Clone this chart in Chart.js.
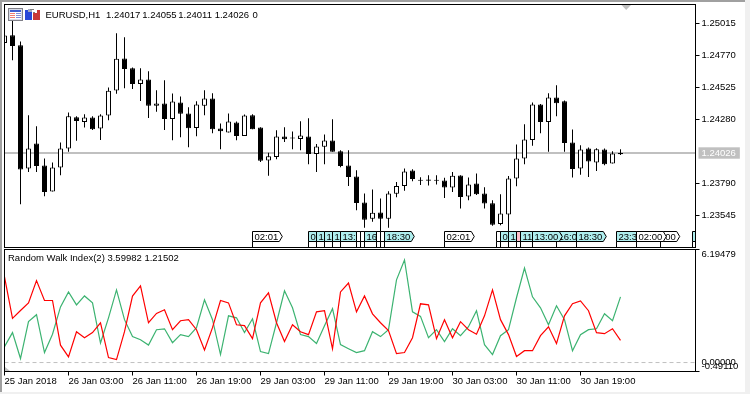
<!DOCTYPE html>
<html><head><meta charset="utf-8">
<script src="https://cdn.jsdelivr.net/npm/chart.js@4/dist/chart.umd.min.js"></script>
<style>
html,body{margin:0;padding:0;background:#fff;overflow:hidden}
#wrap{position:relative;width:750px;height:394px;background:#fff}
canvas{position:absolute;left:0}
#c1{top:0}
#c2{top:248px}
.edge{position:absolute}
</style></head><body>
<div id="wrap">
<canvas id="c1" width="750" height="248"></canvas>
<canvas id="c2" width="750" height="146"></canvas>
<div class="edge" style="left:0;top:0;width:750px;height:2px;background:#a0a0a0"></div>
<div class="edge" style="left:0;top:0;width:2px;height:394px;background:#a0a0a0"></div>
<div class="edge" style="left:745px;top:0;width:5px;height:394px;background:#f0f0f0"></div>
<div class="edge" style="left:0;top:392px;width:750px;height:2px;background:#f0f0f0"></div>
</div>
<script>
const opens=[1.24869,1.24928,1.24851,1.23908,1.24099,1.23930,1.23731,1.23915,1.24061,1.24300,
1.24264,1.24298,1.24214,1.24313,1.24505,1.24750,1.24675,1.24555,1.24589,1.24387,
1.24405,1.24287,1.24413,1.24329,1.24218,1.24387,1.24443,1.24214,1.24183,1.24260,
1.24157,1.24316,1.24221,1.23969,1.23996,1.24152,1.24142,1.24134,1.24152,1.24019,
1.24073,1.24122,1.24040,1.23930,1.23846,1.23647,1.23522,1.23571,1.23522,1.23713,
1.23774,1.23892,1.23816,1.23823,1.23818,1.23816,1.23762,1.23854,1.23693,1.23793,
1.23716,1.23642,1.23483,1.23555,1.23831,1.23984,1.24126,1.24397,1.24264,1.24451,
1.24423,1.24107,1.23908,1.24061,1.23953,1.24053,1.23946,1.24017];
const highs=[1.24926,1.25043,1.24880,1.24316,1.24231,1.23984,1.23953,1.24107,1.24336,1.24308,
1.24323,1.24308,1.24323,1.24528,1.24943,1.24913,1.24681,1.24675,1.24652,1.24507,
1.24584,1.24482,1.24459,1.24377,1.24423,1.24507,1.24484,1.24252,1.24329,1.24267,
1.24321,1.24323,1.24224,1.24027,1.24201,1.24224,1.24191,1.24270,1.24293,1.24094,
1.24168,1.24285,1.24048,1.24048,1.23894,1.23716,1.23747,1.23678,1.23734,1.23803,
1.23908,1.23902,1.23841,1.23856,1.23856,1.23836,1.23881,1.23856,1.23839,1.23869,
1.23764,1.23665,1.23711,1.23849,1.24091,1.24247,1.24413,1.24402,1.24484,1.24545,
1.24428,1.24206,1.24086,1.24068,1.24063,1.24061,1.24040,1.24055];
const lows=[1.24869,1.24737,1.23634,1.23881,1.23881,1.23695,1.23731,1.23856,1.24035,1.24119,
1.24221,1.24203,1.24126,1.24277,1.24479,1.24522,1.24517,1.24425,1.24295,1.24341,
1.24203,1.24124,1.24147,1.24071,1.24155,1.24316,1.24178,1.24055,1.24183,1.24124,
1.24157,1.24208,1.23958,1.23851,1.23979,1.24111,1.24055,1.24048,1.23940,1.23881,
1.23940,1.24035,1.23917,1.23774,1.23588,1.23453,1.23499,1.23420,1.23453,1.23688,
1.23736,1.23810,1.23780,1.23777,1.23785,1.23682,1.23728,1.23601,1.23665,1.23705,
1.23601,1.23468,1.23473,1.23427,1.23772,1.23940,1.24081,1.24178,1.24035,1.24308,
1.24035,1.23839,1.23859,1.23843,1.23889,1.23933,1.23946,1.24011];
const closes=[1.24926,1.24846,1.23900,1.24061,1.23927,1.23728,1.23915,1.24061,1.24308,1.24272,
1.24298,1.24208,1.24313,1.24502,1.24747,1.24670,1.24555,1.24589,1.24387,1.24405,
1.24287,1.24420,1.24326,1.24216,1.24397,1.24443,1.24208,1.24193,1.24267,1.24157,
1.24313,1.24208,1.23966,1.24002,1.24152,1.24132,1.24137,1.24160,1.24019,1.24076,
1.24122,1.24035,1.23927,1.23843,1.23644,1.23514,1.23568,1.23522,1.23716,1.23774,
1.23885,1.23826,1.23813,1.23813,1.23813,1.23762,1.23851,1.23690,1.23785,1.23711,
1.23640,1.23476,1.23563,1.23831,1.23984,1.24130,1.24397,1.24264,1.24451,1.24407,
1.24103,1.23904,1.24053,1.23961,1.24055,1.23940,1.24022,1.24026];
const rwiRed=[4.69,2.42,2.85,3.27,4.49,3.40,3.40,0.95,0.31,1.69,
1.36,1.64,2.18,0.27,0.16,1.69,3.64,4.20,2.18,2.69,
2.89,1.80,2.29,2.35,1.80,0.69,1.91,3.40,3.27,2.07,
2.02,1.31,3.27,3.82,2.18,1.15,2.07,1.69,1.53,2.78,
2.84,0.75,3.87,4.36,2.78,3.65,2.67,2.18,1.75,0.49,
0.55,1.36,3.22,3.16,1.31,2.35,1.36,2.24,1.80,1.55,
2.56,3.98,2.35,1.53,0.33,0.65,0.65,1.47,1.96,1.04,
2.56,3.22,3.38,2.84,1.64,1.58,1.85,1.21502];
const rwiGreen=[0.87,1.64,0.22,2.24,2.62,0.55,1.55,3.05,3.87,3.16,
3.65,3.27,1.07,2.45,3.98,2.35,1.42,1.25,0.96,1.80,
1.85,1.09,1.53,1.42,1.91,3.44,2.35,0.44,2.56,2.45,
1.64,2.40,0.60,0.49,2.18,3.93,3.00,1.53,1.42,1.04,
2.02,2.95,0.98,0.76,0.55,0.65,1.69,1.42,1.80,4.53,
5.62,2.78,2.53,1.36,1.80,1.15,1.85,1.47,1.96,2.84,
0.98,0.44,1.47,1.80,3.55,5.18,3.60,3.00,2.07,3.11,
2.35,0.65,1.53,1.80,1.85,2.67,2.29,3.59982];
const timeTickBars=[0,8,16,24,32,40,48,56,64,72];
const timeTickLabels=['25 Jan 2018','26 Jan 03:00','26 Jan 11:00','26 Jan 19:00','29 Jan 03:00','29 Jan 11:00','29 Jan 19:00','30 Jan 03:00','30 Jan 11:00','30 Jan 19:00'];
const priceTicks=[1.25015,1.24770,1.24525,1.24280,1.24026,1.23790,1.23545];
const lastPrice=1.24026;
const rwiTicks=[6.19479,0,-0.4911];
const tagBars=[31,38,39,40,41,42,44,44.5,45,46.5,47,47.5,55,61.5,62,63,64,64.5,69,66,71.5,76.5,82,79,86];
const tagTexts=['02:01','0','1','1','1','13:','','','16','','','18:30','02:01','','0','1','','11','16:0','13:00','18:30','23:3',':00','02:00',''];
const tagKinds=['w','c','c','c','c','c','w','w','c','w','w','c','w','w','c','c','p','c','c','c','c','c','w','w','c'];
const headerTexts=['EURUSD,H1','1.24017','1.24055','1.24011','1.24026','0'];
const subTitle='Random Walk Index(2) 3.59982 1.21502';

const FONT='"Liberation Sans"';
const FS=9.5;
const fontStr=FS+'px '+FONT;
const xMax=86.375;
const bars=opens.map((_,i)=>i);
const tagFill={w:'#ffffff',c:'#afeeee',p:'#ffc0cb'};

function frame(chart){
  const a=chart.chartArea,c=chart.ctx;
  c.save();c.strokeStyle='#000';c.lineWidth=1;
  c.strokeRect(Math.floor(a.left)+.5,Math.floor(a.top)+.5,Math.floor(a.right)-Math.floor(a.left),Math.floor(a.bottom)-Math.floor(a.top));
  c.restore();
}
function noOverflow(s){s.paddingTop=0;s.paddingBottom=0;s.paddingLeft=0;s.paddingRight=0;}
const mainDeco={id:'mainDeco',
  afterDatasetsDraw(chart){
    const c=chart.ctx,xs=chart.scales.x;
    c.save();
    c.font=fontStr;c.textBaseline='middle';
    tagBars.forEach((b,i)=>{
      const x=Math.round(xs.getPixelForValue(b)-.5)+.5,t=tagTexts[i];
      const w=c.measureText(t||'18:30').width+3,top=231.5,bot=241.5,mid=236.5;
      c.save();c.beginPath();c.rect(chart.chartArea.left,0,chart.chartArea.right-chart.chartArea.left,248);c.clip();
      c.beginPath();c.moveTo(x,top);c.lineTo(x+w,top);c.lineTo(x+w+3,mid);c.lineTo(x+w,bot);c.lineTo(x,bot);c.closePath();
      c.fillStyle=tagFill[tagKinds[i]];c.fill();c.strokeStyle='#000';c.lineWidth=1;c.stroke();
      c.beginPath();c.moveTo(x,bot);c.lineTo(x,247);c.stroke();
      c.fillStyle='#000';c.textAlign='left';if(t)c.fillText(t,x+2,mid+.5);
      c.restore();
    });
    c.restore();
    frame(chart);
    c.save();
    c.fillStyle='#d8dce8';c.strokeStyle='#808088';c.lineWidth=1;c.fillRect(8,8,14,12);c.strokeRect(8.5,8.5,14,12);
    c.fillStyle='#ffffff';c.fillRect(10,10,11,9);
    c.fillStyle='#4060d0';c.fillRect(10,10,11,2);
    c.fillStyle='#f08070';c.fillRect(10,13,5,1);c.fillRect(10,15,5,1);c.fillRect(10,17,5,1);
    c.fillStyle='#8090d8';c.fillRect(16,13,5,1);c.fillRect(16,15,5,1);c.fillRect(16,17,5,1);
    c.fillStyle='#2848d8';c.fillRect(25,10,7,10);c.fillStyle='#a0a8c0';c.fillRect(28,9,4,3);
    c.fillStyle='#c83838';c.fillRect(33,10,7,10);c.fillStyle='#ffffff';c.fillRect(33,10,4,3);
    c.fillStyle='#808080';c.fillRect(30,9,4,1);c.fillRect(33,12,2,1);
    c.fillStyle='#c0c0c0';c.beginPath();c.moveTo(621.5,5);c.lineTo(631,5);c.lineTo(626.2,10);c.closePath();c.fill();
    c.fillStyle='#000';c.font=fontStr;c.textBaseline='middle';c.textAlign='left';
    const hx=[45.5,106,142.3,178.3,214.7,252.5];
    headerTexts.forEach((t,i)=>c.fillText(t,hx[i],15));
    c.restore();
  }};
const subDeco={id:'subDeco',
  afterDatasetsDraw(chart){
    frame(chart);
    const c=chart.ctx;
    c.save();
    c.fillStyle='#c0c0c0';c.beginPath();c.moveTo(5,119);c.lineTo(10,123);c.lineTo(5,123);c.closePath();c.fill();
    c.fillStyle='#000';c.font=fontStr;c.textBaseline='middle';c.textAlign='left';
    c.fillText(subTitle,8,10.5);
    c.restore();
  }};
Chart.defaults.animation=false;
Chart.defaults.font.family=FONT;
Chart.defaults.font.size=FS;
Chart.defaults.color='#000';

new Chart(document.getElementById('c1'),{
  type:'bar',
  data:{datasets:[
    {label:'Body',order:1,barThickness:5,grouped:false,minBarLength:1,
     data:bars.map(i=>({x:i,y:[Math.min(opens[i],closes[i]),Math.max(opens[i],closes[i])]})),
     backgroundColor:bars.map(i=>closes[i]>=opens[i]?'#ffffff':'#000000'),
     borderColor:'#000',borderWidth:1,borderSkipped:false,inflateAmount:0},
    {label:'Wick',order:2,barThickness:1,grouped:false,
     data:bars.map(i=>({x:i,y:[lows[i],highs[i]]})),
     backgroundColor:'#000',borderWidth:0,inflateAmount:0},
    {type:'line',label:'Last price',order:3,data:[{x:0,y:lastPrice},{x:xMax,y:lastPrice}],
     borderColor:'#c0c0c0',borderWidth:2,pointRadius:0,tension:0}
  ]},
  options:{responsive:false,
    layout:{padding:{left:4.5,top:4.5,right:0,bottom:.5}},
    plugins:{legend:{display:false},tooltip:{enabled:false}},
    scales:{
      x:{type:'linear',display:false,min:0,max:xMax,offset:false,grid:{offset:false}},
      y:{position:'right',min:1.233023,max:1.251633,
        afterFit(s){s.width=54.5;noOverflow(s);},
        afterBuildTicks(s){s.ticks=priceTicks.map(v=>({value:v}));},
        border:{display:false},
        grid:{drawOnChartArea:false,tickLength:4,tickColor:c=>c.tick&&c.tick.value===lastPrice?'rgba(0,0,0,0)':'#000'},
        ticks:{padding:2,autoSkip:false,font:{size:FS,family:FONT},
          callback:v=>v.toFixed(5),
          color:c=>c.tick.value===lastPrice?'#ffffff':'#000',
          showLabelBackdrop:c=>c.tick.value===lastPrice,
          backdropColor:'#c0c0c0',backdropPadding:{left:3,right:4,top:0,bottom:0}}
      }
    }
  },
  plugins:[mainDeco]
});

new Chart(document.getElementById('c2'),{
  type:'line',
  data:{datasets:[
    {label:'RWI high',order:1,data:bars.map(i=>({x:i,y:rwiRed[i]})),borderColor:'#ff0000',borderWidth:1.2,pointRadius:0,tension:0},
    {label:'RWI low',order:2,data:bars.map(i=>({x:i,y:rwiGreen[i]})),borderColor:'#3cb371',borderWidth:1.2,pointRadius:0,tension:0},
    {label:'Zero',order:3,data:[{x:0,y:0},{x:xMax,y:0}],borderColor:'#c0c0c0',borderWidth:1,borderDash:[4,3],pointRadius:0,tension:0}
  ]},
  options:{responsive:false,
    layout:{padding:{left:4.5,top:1.5,right:0,bottom:0}},
    plugins:{legend:{display:false},tooltip:{enabled:false}},
    scales:{
      x:{type:'linear',min:0,max:xMax,offset:false,
        afterFit(s){s.height=22.5;noOverflow(s);},
        afterBuildTicks(s){s.ticks=timeTickBars.map(v=>({value:v}));},
        border:{display:false},
        grid:{drawOnChartArea:false,tickLength:4,tickColor:'#000'},
        ticks:{autoSkip:false,maxRotation:0,minRotation:0,align:'start',padding:0,font:{size:FS,family:FONT},
          callback:(v,i)=>timeTickLabels[i]}
      },
      y:{position:'right',min:-0.4911,max:6.19479,
        afterFit(s){s.width=54.5;noOverflow(s);},
        afterBuildTicks(s){s.ticks=rwiTicks.map(v=>({value:v}));},
        border:{display:false},
        grid:{drawOnChartArea:false,tickLength:4,tickColor:c=>c.tick&&c.tick.value===0?'rgba(0,0,0,0)':'#000'},
        ticks:{padding:2,autoSkip:false,font:{size:FS,family:FONT,lineHeight:'10px'},
          callback:(v)=>v>1?['',v.toFixed(5)]:(v<0?[v.toFixed(5),'']:v.toFixed(5))}
      }
    }
  },
  plugins:[subDeco]
});
</script>
</body></html>
